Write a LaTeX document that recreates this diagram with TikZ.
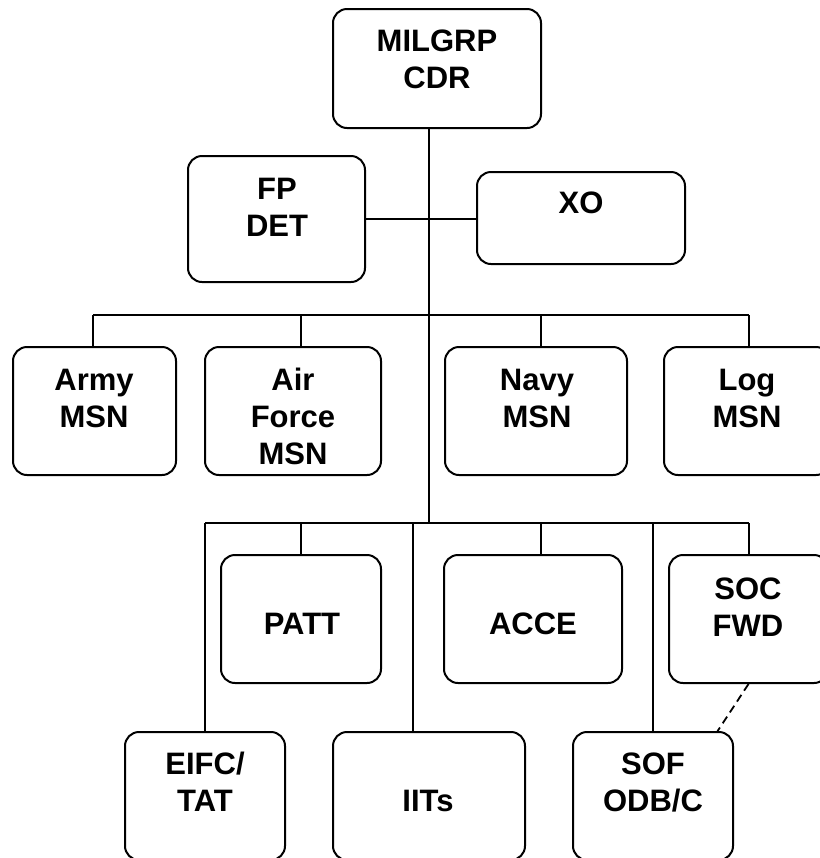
\documentclass[tikz,border=0pt]{standalone}
\usepackage{fontspec}
\setmainfont{Liberation Sans}
\usetikzlibrary{fit}

\tikzset{
    unitbox/.style = {draw, line width=1pt, rounded corners=7pt, inner sep=0pt},
    lbl/.style = {font=\bfseries\fontsize{15.5}{18.5}\selectfont, align=center, text width=100pt, inner sep=0pt, anchor=base},
    wire/.style = {line width=0.9pt},
}

\begin{document}
\begin{tikzpicture}[x=0.5pt,y=-0.5pt]
        \useasboundingbox (0,0) rectangle (820,858);
        \clip (0,0) rectangle (820,858);
        %Boxes
        \node[unitbox, fit={(333,9) (541,128)}] (cdr) {};
        \node[unitbox, fit={(188,156) (365,282)}] (fp) {};
        \node[unitbox, fit={(477,172) (685,264)}] (xo) {};
        \node[unitbox, fit={(13,347) (176,475)}] (army) {};
        \node[unitbox, fit={(205,347) (381,475)}] (airforce) {};
        \node[unitbox, fit={(445,347) (627,475)}] (navy) {};
        \node[unitbox, fit={(664,347) (830,475)}] (log) {};
        \node[unitbox, fit={(221,555) (381,683)}] (patt) {};
        \node[unitbox, fit={(444,555) (622,683)}] (acce) {};
        \node[unitbox, fit={(669,555) (828,683)}] (socfwd) {};
        \node[unitbox, fit={(125,732) (285,860)}] (eifc) {};
        \node[unitbox, fit={(333,732) (525,860)}] (iits) {};
        \node[unitbox, fit={(573,732) (733,860)}] (sof) {};
        %Labels
        \node[lbl] (cdr-t) at (437,51) {MILGRP\\CDR};
        \node[lbl] (fp-t) at (277,199) {FP\\DET};
        \node[lbl] (xo-t) at (581,213) {XO};
        \node[lbl] (army-t) at (94,390) {Army\\MSN};
        \node[lbl] (airforce-t) at (293,390) {Air\\Force\\MSN};
        \node[lbl] (navy-t) at (537,390) {Navy\\MSN};
        \node[lbl] (log-t) at (747,390) {Log\\MSN};
        \node[lbl] (patt-t) at (302,634) {PATT};
        \node[lbl] (acce-t) at (533,634) {ACCE};
        \node[lbl] (socfwd-t) at (748,599) {SOC\\FWD};
        \node[lbl] (eifc-t) at (205,774) {EIFC/\\TAT};
        \node[lbl] (iits-t) at (428,811) {IITs};
        \node[lbl] (sof-t) at (653,774) {SOF\\ODB/C};
        %Bus points
        \coordinate (hub) at (429,523);
        \coordinate (b1) at (93,315);
        \coordinate (b2) at (301,315);
        \coordinate (b3) at (541,315);
        \coordinate (b4) at (749,315);
        \coordinate (c1) at (205,523);
        \coordinate (c2) at (301,523);
        \coordinate (c3) at (413,523);
        \coordinate (c4) at (541,523);
        \coordinate (c5) at (653,523);
        \coordinate (c6) at (749,523);
        \coordinate (sof-link) at (717,732);
        %Lines
        \draw[wire] (cdr.south -| hub) -- (hub);
        \draw[wire] (fp.east) -- (fp.east -| xo.west);
        \draw[wire] (b1) -- (b4);
        \foreach \c/\b in {b1/army, b2/airforce, b3/navy, b4/log} {
            \draw[wire] (\c) -- (\c |- \b.north);
        }
        \draw[wire] (c1) -- (c6);
        \foreach \c/\b in {c1/eifc, c2/patt, c3/iits, c4/acce, c5/sof, c6/socfwd} {
            \draw[wire] (\c) -- (\c |- \b.north);
        }
        \draw[wire, dash pattern=on 4pt off 2.5pt] (socfwd.south) -- (sof-link);
    \end{tikzpicture}
\end{document}
